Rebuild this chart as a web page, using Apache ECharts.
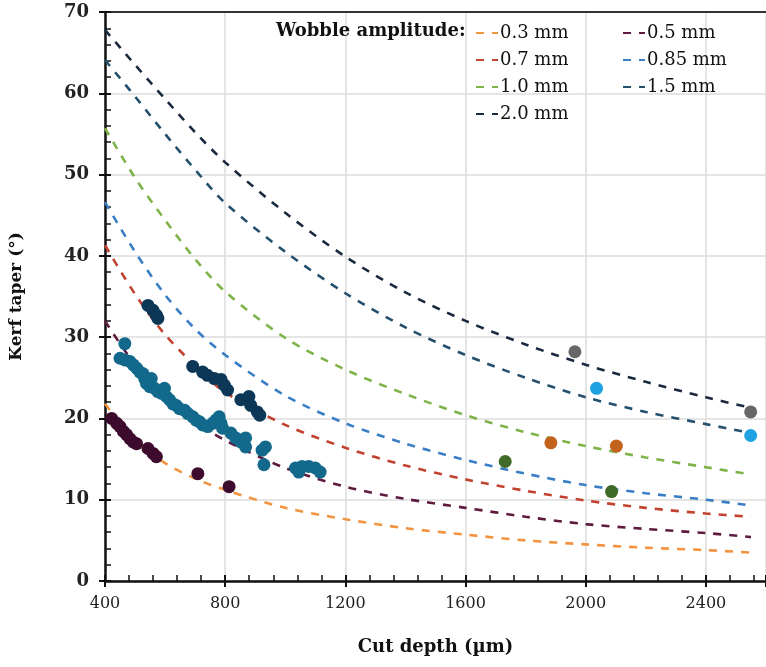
<!DOCTYPE html>
<html>
<head>
<meta charset="utf-8">
<script src="https://cdn.jsdelivr.net/npm/echarts@6/dist/echarts.min.js"></script>
<style>
html, body { margin: 0; padding: 0; background: #fff; overflow: hidden; }
#chart { width: 766px; height: 667px; }
</style>
</head>
<body>
<div id="chart"></div>
<script>
// fitted trend lines at these cut depths
const fitX = [400, 500, 600, 700, 800, 1000, 1200, 1400, 1600, 1800, 2000, 2200, 2400, 2550];
const w03 = [21.8, 17.4, 14.5, 12.6, 11.2, 9.0, 7.6, 6.5, 5.7, 5.0, 4.5, 4.1, 3.8, 3.5];
const w05 = [32.0, 26.6, 22.6, 19.6, 17.3, 13.9, 11.6, 10.1, 9.0, 7.9, 7.0, 6.4, 5.9, 5.4];
const w07 = [41.3, 35.3, 30.3, 26.5, 23.2, 19.2, 16.4, 14.2, 12.5, 11.1, 9.9, 9.0, 8.3, 7.9];
const w085 = [46.6, 40.5, 35.2, 31.0, 27.8, 22.8, 19.4, 16.9, 14.9, 13.2, 11.8, 10.8, 10.0, 9.3];
const w10 = [55.7, 49.6, 44.4, 39.6, 35.6, 29.9, 26.0, 23.0, 20.4, 18.3, 16.6, 15.2, 14.0, 13.1];
const w15 = [64.1, 59.6, 55.0, 50.6, 46.5, 40.5, 35.4, 31.2, 27.8, 25.0, 22.6, 20.8, 19.3, 18.2];
const w20 = [67.8, 63.5, 59.3, 55.2, 51.5, 45.3, 39.9, 35.5, 32.0, 29.1, 26.6, 24.5, 22.6, 21.3];

// measured points [depth, taper]
const ptsMaroon = [[422,20.0],[439,19.4],[450,19.0],[461,18.4],[472,18.0],[483,17.5],[494,17.1],[505,16.9],
  [543,16.3],[560,15.7],[571,15.3],[709,13.2],[813,11.6]];
const ptsTeal = [[466,29.2],[450,27.4],[466,27.2],[483,27.0],[494,26.6],[505,26.2],[516,25.7],[527,25.5],
  [532,24.9],[538,24.3],[549,23.9],[554,24.9],[565,23.7],[576,23.3],[587,23.1],[598,23.7],[604,22.7],
  [615,22.3],[626,21.8],[637,21.6],[648,21.2],[665,21.0],[676,20.6],[692,20.2],[703,19.8],[714,19.6],
  [725,19.2],[742,19.0],[758,19.4],[769,19.8],[780,20.2],[786,19.4],[791,18.8],[819,18.2],[835,17.6],
  [852,17.1],[868,17.6],[868,16.5],[923,16.1],[934,16.5],[929,14.3],
  [1034,13.9],[1045,13.4],[1056,14.1],[1078,14.1],[1100,13.9],[1116,13.4]];
const ptsNavy = [[543,33.9],[560,33.3],[571,32.7],[576,32.3],
  [692,26.4],[725,25.7],[741,25.3],[764,24.9],[786,24.8],[797,24.1],[808,23.5],
  [852,22.3],[879,22.7],[885,21.6],[907,20.8],[915,20.4]];
const ptsGray = [[1964,28.2],[2549,20.8]];
const ptsSky = [[2036,23.7],[2549,17.9]];
const ptsRust = [[1884,17.0],[2102,16.6]];
const ptsGreen = [[1732,14.7],[2086,11.0]];

const FONT = 'DejaVu Serif';
const chart = echarts.init(document.getElementById('chart'));

function fitLine(name, ys, color){
    return {
        name,
        type: 'line',
        smooth: 0.3,
        symbol: 'none',
        z: 2,
        data: fitX.map((x, i) => [x, ys[i]]),
        lineStyle: { color, width: 2.6, type: [8, 8] },
        itemStyle: { color },
    };
}
function dots(pts, color){
    return {
        type: 'scatter',
        symbolSize: 13,
        z: 3,
        data: pts,
        itemStyle: { color, opacity: 1 },
    };
}

const baseX = { type: 'value', min: 400, max: 2600, interval: 400, gridIndex: 0 };
const baseY = { type: 'value', min: 0, max: 70, interval: 10, gridIndex: 0 };
const legendCommon = {
    top: 19, orient: 'vertical', itemGap: 9, itemWidth: 22, itemHeight: 10,
    itemStyle: { opacity: 0 },
    textStyle: { fontFamily: FONT, fontSize: 18, color: '#111', padding: [0, 0, 0, -3] },
};

const option = {
    animation: false,
    backgroundColor: '#fff',
    title: {
        text: 'Wobble amplitude:',
        left: 271, top: 17,
        textStyle: { fontFamily: FONT, fontSize: 18, fontWeight: 'bold', color: '#111' },
    },
    legend: [
        { ...legendCommon, left: 470, data: ['0.3 mm', '0.7 mm', '1.0 mm', '2.0 mm'] },
        { ...legendCommon, left: 617, data: ['0.5 mm', '0.85 mm', '1.5 mm'] },
    ],
    grid: { left: 105, right: -4, top: 12, bottom: 86 },
    xAxis: [{
        ...baseX,
        name: 'Cut depth (µm)',
        nameLocation: 'middle',
        nameGap: 57,
        nameTextStyle: { fontFamily: FONT, fontSize: 18, fontWeight: 'bold', color: '#111' },
        axisLine: { onZero: false, lineStyle: { color: '#111', width: 2.5 } },
        axisTick: { inside: true, length: 6, lineStyle: { color: '#111', width: 2 } },
        minorTick: { show: true, splitNumber: 5, length: 6, lineStyle: { color: '#111', width: 1.5 } },
        splitLine: { lineStyle: { color: '#dcdcdc', width: 1.5 } },
        axisLabel: { fontFamily: FONT, fontSize: 16, color: '#222', margin: 15, showMaxLabel: false,
            formatter: v => String(v) },
    }, {
        ...baseX, position: 'bottom',
        axisLine: { show: false, onZero: false },
        axisTick: { inside: false, length: 6, lineStyle: { color: '#111', width: 2 } },
        axisLabel: { show: false }, splitLine: { show: false },
    }, {
        ...baseX, position: 'top',
        axisLine: { onZero: false, lineStyle: { color: '#333', width: 2 } },
        axisTick: { show: false }, axisLabel: { show: false }, splitLine: { show: false },
    }],
    yAxis: [{
        ...baseY,
        name: 'Kerf taper (°)',
        nameLocation: 'middle',
        nameGap: 80,
        nameTextStyle: { fontFamily: FONT, fontSize: 17, fontWeight: 'bold', color: '#111' },
        axisLine: { onZero: false, lineStyle: { color: '#111', width: 2.5 } },
        axisTick: { inside: true, length: 6, lineStyle: { color: '#111', width: 2 } },
        minorTick: { show: true, splitNumber: 5, length: 6, lineStyle: { color: '#111', width: 1.5 } },
        splitLine: { lineStyle: { color: '#dcdcdc', width: 1.5 } },
        axisLabel: { fontFamily: FONT, fontSize: 18, fontWeight: 'bold', color: '#222', margin: 16 },
    }, {
        ...baseY, position: 'left',
        axisLine: { show: false, onZero: false },
        axisTick: { inside: false, length: 6, lineStyle: { color: '#111', width: 2 } },
        axisLabel: { show: false }, splitLine: { show: false },
    }],
    series: [
        fitLine('0.3 mm', w03, '#f29340'),
        fitLine('0.5 mm', w05, '#5e1b3f'),
        fitLine('0.7 mm', w07, '#c2412f'),
        fitLine('0.85 mm', w085, '#3a7fc6'),
        fitLine('1.0 mm', w10, '#7db349'),
        fitLine('1.5 mm', w15, '#24506e'),
        fitLine('2.0 mm', w20, '#1a2940'),
        dots(ptsMaroon, '#3c0b2d'),
        dots(ptsTeal, '#12698c'),
        dots(ptsNavy, '#0c3757'),
        dots(ptsGray, '#676767'),
        dots(ptsSky, '#1ea2e2'),
        dots(ptsRust, '#c2621c'),
        dots(ptsGreen, '#3f6a27'),
    ],
};
chart.setOption(option);
</script>
</body>
</html>
